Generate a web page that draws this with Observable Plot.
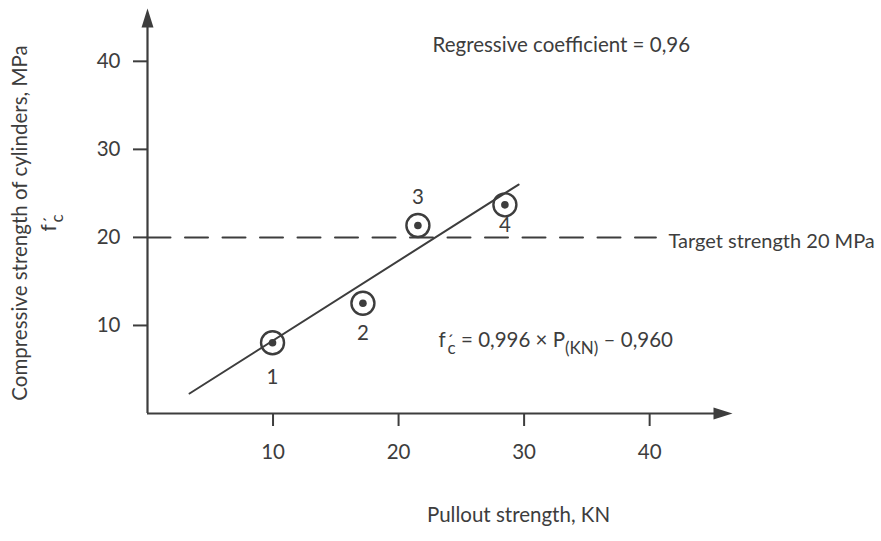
<!DOCTYPE html>
<html><head><meta charset="utf-8">
<script src="https://cdn.jsdelivr.net/npm/d3@7"></script>
<script src="https://cdn.jsdelivr.net/npm/@observablehq/plot@0.6"></script>
<style>body{margin:0;background:#fff}</style>
</head><body><div id="chart"></div>
<script>
// ---- data ----
const pointIds = ["1", "2", "3", "4"];
const pullout = [9.96, 17.16, 21.54, 28.47];       // KN
const compressive = [8.03, 12.53, 21.36, 23.7];    // MPa
const fitX = [3.35, 29.56];
const fitY = [2.27, 26.0];
const targetStrength = 20;
const targetX = [0, 40.5];
const xTicks = [10, 20, 30, 40];
const yTicks = [10, 20, 30, 40];
const xMax = 46.6, yMax = 46;

const ink = "#3d3d3d";
const fs = 20.5;
const points = pointIds.map((id, i) => ({id, x: pullout[i], y: compressive[i]}));
const fit = fitX.map((x, i) => ({x, y: fitY[i]}));
const target = targetX.map(x => ({x, y: targetStrength}));
const labelDy = [35, 30, -28, 21];

const arrowHead = {draw(ctx) { ctx.moveTo(0, 0); ctx.lineTo(6, 19); ctx.lineTo(-6, 19); ctx.closePath(); }};

const chart = Plot.plot({
  width: 881, height: 541,
  marginLeft: 147, marginRight: 881 - 147 - 585, marginTop: 8, marginBottom: 128,
  style: {fontFamily: "Lato", fontSize: fs + "px", color: ink, background: "#fff"},
  x: {domain: [0, xMax]},
  y: {domain: [0, yMax]},
  marks: [
    Plot.axisX({ticks: xTicks, tickSize: 13, tickPadding: 18, label: null, strokeWidth: 2, fontSize: fs}),
    Plot.axisY({ticks: yTicks, tickSize: 14, tickPadding: 13, label: null, strokeWidth: 2, fontSize: fs}),
    Plot.ruleY([0], {x1: 0, x2: xMax - 1, stroke: ink, strokeWidth: 2.2}),
    Plot.ruleX([0], {y1: 0, y2: yMax - 1, stroke: ink, strokeWidth: 2.2}),
    Plot.dot([{x: 0, y: yMax}], {x: "x", y: "y", symbol: arrowHead, fill: ink, stroke: "none"}),
    Plot.dot([{x: xMax, y: 0}], {x: "x", y: "y", symbol: arrowHead, rotate: 90, fill: ink, stroke: "none"}),
    Plot.line(target, {x: "x", y: "y", stroke: ink, strokeWidth: 2, strokeDasharray: "23,14.5"}),
    Plot.line(fit, {x: "x", y: "y", stroke: ink, strokeWidth: 2}),
    Plot.dot(points, {x: "x", y: "y", r: 11.5, stroke: ink, strokeWidth: 2.4, fill: "none"}),
    Plot.dot(points, {x: "x", y: "y", r: 3.8, fill: ink, stroke: "none"}),
    ...points.map((p, i) => Plot.text([p], {x: "x", y: "y", text: "id", dy: labelDy[i], fill: ink, fontSize: fs})),
    Plot.text(["Regressive coefficient = 0,96"], {x: 22.7, y: 41.8, textAnchor: "start", fill: ink, fontSize: fs}),
    Plot.text(["Target strength 20 MPa"], {x: 41.5, y: targetStrength, dy: 4, textAnchor: "start", fill: ink, fontSize: 20}),
    Plot.text(["EQUATION"], {x: 23.19, y: 8.3, textAnchor: "start", fill: ink, fontSize: fs}),
    Plot.text(["Pullout strength, KN"], {frameAnchor: "bottom", textAnchor: "middle", dx: 78.5, dy: 108, fill: ink, fontSize: fs}),
    Plot.text(["Compressive strength of cylinders, MPa"], {frameAnchor: "left", textAnchor: "middle", dx: -127, dy: 12, rotate: -90, fill: ink, fontSize: fs}),
    Plot.text(["FCLABEL"], {frameAnchor: "left", textAnchor: "middle", dx: -98, dy: 12, rotate: -90, fill: ink, fontSize: fs})
  ]
});

function fcSpans(el) {
  const t = d3.select(el);
  t.text(null);
  t.append("tspan").text("f");
  t.append("tspan").attr("font-size", 17).attr("dx", 1).text("\u00B4");
  t.append("tspan").attr("font-size", 17).attr("dx", -6).attr("dy", 7).text("c");
  return t;
}
d3.select(chart).selectAll("text").each(function() {
  const s = this.textContent;
  if (s === "EQUATION") {
    const t = fcSpans(this);
    t.append("tspan").attr("dy", -7).text(" = 0,996 \u00D7 P");
    t.append("tspan").attr("font-size", 17).attr("dy", 7).text("(KN)");
    t.append("tspan").attr("dy", -7).text(" \u2013 0,960");
  } else if (s === "FCLABEL") {
    fcSpans(this);
  }
});
document.getElementById("chart").appendChild(chart);
</script>
</body></html>
